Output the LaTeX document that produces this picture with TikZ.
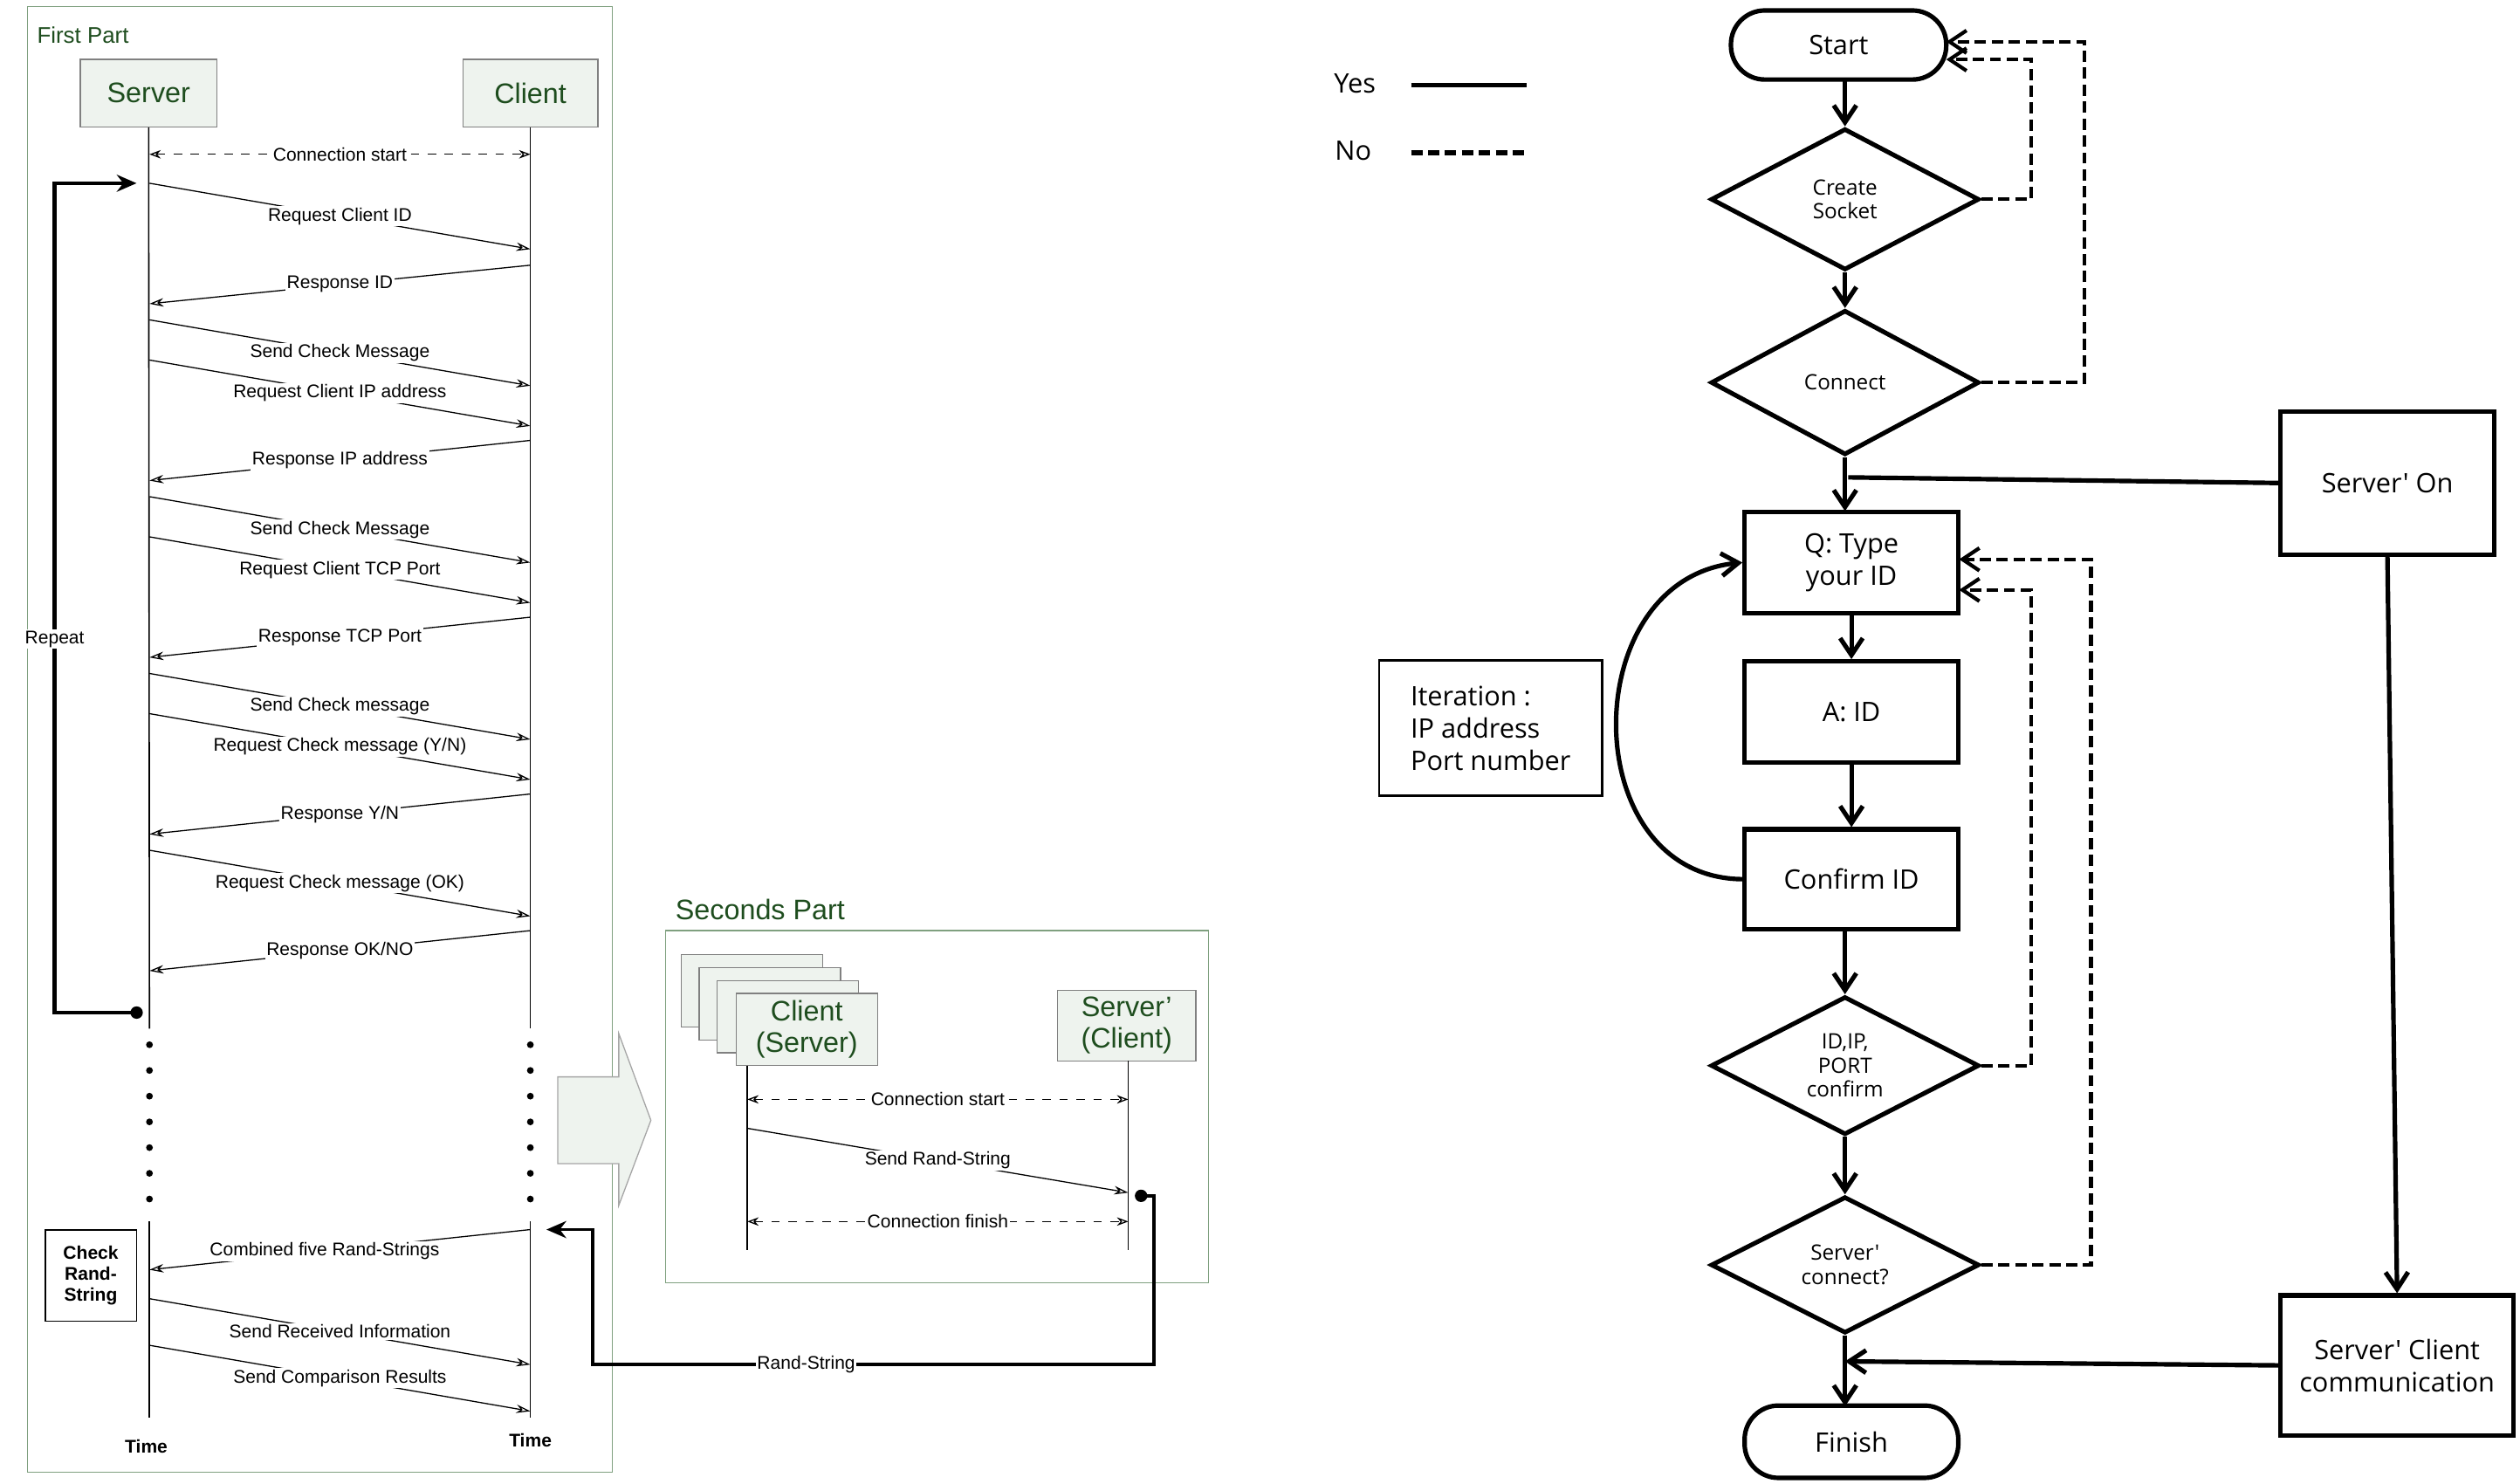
\documentclass[tikz,border=0pt]{standalone}
\usepackage{fontspec}
\setmainfont{Liberation Sans}
\newfontfamily\flowfont{Open Sans}
\usetikzlibrary{arrows.meta,shapes.geometric}
\definecolor{boxfill}{HTML}{EEF3EE}
\definecolor{dgreen}{HTML}{1E4D1E}
\definecolor{frame}{HTML}{7FA07F}
\tikzset{
 every node/.style={inner sep=1pt},
 msg/.style={draw, line width=0.4pt, -{Stealth[open,length=5pt,width=3pt]}},
 lbl/.style={font=\fontsize{6.5}{7}\selectfont, fill=white, inner sep=0.5pt},
 life/.style={draw, line width=0.5pt},
 actor/.style={draw=gray, fill=boxfill, text=dgreen, font=\fontsize{10}{11}\selectfont, align=center},
 dash2/.style={draw, dashed, line width=0.4pt, {Stealth[open,length=4pt,width=3pt]}-{Stealth[open,length=4pt,width=3pt]}},
 fbox/.style={draw, line width=1.6pt, font=\flowfont\fontsize{9.5}{11.5}\selectfont, align=center},
 dia/.style={draw, diamond, aspect=1.9, line width=1.6pt, inner sep=0pt, font=\flowfont\fontsize{7.5}{8.5}\selectfont, align=center},
 yes/.style={draw, line width=1.6pt, -{Straight Barb[length=6pt,width=8pt]}},
 no/.style={draw, line width=1.3pt, dashed, dash pattern=on 4pt off 2pt, -{Straight Barb[length=6pt,width=8pt]}},
}
\begin{document}
\begin{tikzpicture}[x=0.02cm,y=-0.02cm]
\useasboundingbox (0,0) rectangle (1568,923);
% ---------- First part
\draw[frame] (17,4) rectangle (381,916);
\node[anchor=west,text=dgreen,font=\fontsize{8}{9}\selectfont] (fp) at (21,22) {First Part};
\node[actor,minimum width=1.7cm,minimum height=0.84cm] (srv) at (92.5,58) {Server};
\node[actor,minimum width=1.68cm,minimum height=0.84cm] (cli) at (330,58) {Client};
\coordinate (sB) at (93,640);
\coordinate (cB) at (330,640);
\draw[life] (srv.south) -- (sB); \draw[life] (cli.south) -- (cB);
\foreach \y in {650,666,...,750} {\fill (93,\y) circle (1.2pt); \fill (330,\y) circle (1.2pt);}
\coordinate (s2) at (93,760); \coordinate (s3) at (93,882);
\coordinate (c2) at (330,760); \coordinate (c3) at (330,882);
\draw[life] (s2)--(s3); \draw[life] (c2)--(c3);
\draw[dash2] (93,96) -- node[lbl]{Connection start} (330,96);
\foreach \a/\b/\t/\d in {
114/155/{Request Client ID}/0, 165/189/{Response ID}/1, 199/240/{Send Check Message}/0,
224/265/{Request Client IP address}/0, 274/299/{Response IP address}/1, 309/350/{Send Check Message}/0,
334/375/{Request Client TCP Port}/0, 384/409/{Response TCP Port}/1, 419/460/{Send Check message}/0,
444/485/{Request Check message (Y/N)}/0, 494/519/{Response Y/N}/1, 529/570/{Request Check message (OK)}/0,
579/604/{Response OK/NO}/1}{
 \ifnum\d=0 \draw[msg] (93,\a) -- node[lbl,pos=0.5]{\t} (330,\b);
 \else \draw[msg] (330,\a) -- node[lbl,pos=0.5]{\t} (93,\b); \fi}
\fill (85,630) circle (2.2pt);
\draw[line width=1.3pt,-{Stealth[length=7pt,width=6pt]}] (85,630) -- (34,630) -- node[lbl,pos=0.45]{Repeat} (34,114) -- (85,114);
\node[draw,line width=0.6pt,minimum width=1.14cm,minimum height=1.14cm,font=\bfseries\fontsize{6.5}{7.5}\selectfont,align=center] (chk) at (56.5,793.5) {Check\\Rand-\\String};
\draw[msg] (330,765) -- node[lbl,pos=0.54]{Combined five Rand-Strings} (93,790);
\draw[msg] (93,808) -- node[lbl]{Send Received Information} (330,849);
\draw[msg] (93,837) -- node[lbl]{Send Comparison Results} (330,878);
\node[font=\bfseries\fontsize{6.5}{7}\selectfont] (t1) at (91,900) {Time};
\node[font=\bfseries\fontsize{6.5}{7}\selectfont] (t2) at (330,896) {Time};
% big arrow
\draw[gray!70,fill=boxfill] (347,670) -- (385,670) -- (385,643) -- (405,697) -- (385,750) -- (385,724) -- (347,724) -- cycle;
% ---------- Seconds part
\draw[frame] (414,579) rectangle (752,798);
\node[text=dgreen,font=\fontsize{10}{11}\selectfont] (sp) at (473,566) {Seconds Part};
\foreach \dx in {0,11,22} \draw[gray,fill=boxfill] (424+\dx,594+\dx*0.73) rectangle (512+\dx,639+\dx*0.73);
\node[actor,minimum width=1.76cm,minimum height=0.9cm] (cs) at (502,640.5) {Client\\(Server)};
\node[actor,minimum width=1.72cm,minimum height=0.88cm] (sc) at (701,638) {Server'\\(Client)};
\draw[life] (465,663) -- (465,778); \draw[life] (702,660) -- (702,778);
\draw[dash2] (465,684) -- node[lbl]{Connection start} (702,684);
\draw[msg] (465,702) -- node[lbl]{Send Rand-String} (702,742);
\draw[dash2] (465,760) -- node[lbl]{Connection finish} (702,760);
\fill (710,744) circle (2.2pt);
\draw[line width=1.2pt,-{Stealth[length=7pt,width=6pt]}] (710,744) -- (718,744) -- (718,849) -- node[lbl,pos=0.62]{Rand-String} (369,849) -- (369,765) -- (340,765);
% ---------- Flowchart
\node[font=\flowfont\fontsize{9.5}{11}\selectfont] (yl) at (843,52) {Yes};
\node[font=\flowfont\fontsize{9.5}{11}\selectfont] (nl) at (842,94) {No};
\draw[line width=1.6pt] (878,53) -- (950,53);
\draw[line width=1.6pt,dashed,dash pattern=on 4pt off 2pt] (878,95) -- (950,95);
\node[fbox,rounded corners=12pt,minimum width=2.68cm,minimum height=0.86cm] (start) at (1144,28) {Start};
\node[dia,minimum width=3.34cm,minimum height=1.76cm] (cs1) at (1148,124) {Create\\Socket};
\node[dia,minimum width=3.34cm,minimum height=1.8cm] (con) at (1148,238) {Connect};
\node[fbox,minimum width=2.66cm,minimum height=1.26cm] (q) at (1152,350) {Q: Type\\your ID};
\node[fbox,minimum width=2.66cm,minimum height=1.26cm] (a) at (1152,443) {A: ID};
\node[fbox,minimum width=2.66cm,minimum height=1.24cm] (cf) at (1152,547) {Confirm ID};
\node[dia,minimum width=3.34cm,minimum height=1.72cm] (idp) at (1148,663) {ID,IP,\\PORT\\confirm};
\node[dia,minimum width=3.34cm,minimum height=1.7cm] (sco) at (1148,787) {Server'\\connect?};
\node[fbox,rounded corners=12pt,minimum width=2.66cm,minimum height=0.9cm] (fin) at (1152,897) {Finish};
\node[fbox,minimum width=2.66cm,minimum height=1.78cm] (son) at (1485.5,300.5) {Server' On};
\node[fbox,minimum width=2.9cm,minimum height=1.74cm] (scc) at (1491.5,849.5) {Server' Client\\communication};
\node[draw,line width=0.8pt,minimum width=2.78cm,minimum height=1.68cm,font=\flowfont\fontsize{9.5}{11.5}\selectfont,align=left] (it) at (927.5,453) {Iteration :\\IP address\\Port number};
\draw[yes] (1148,49) -- (cs1.north);
\draw[yes] (cs1.south) -- (con.north);
\draw[yes] (con.south) -- (1148,318);
\draw[line width=1.6pt] (son.west) -- (1150,297);
\draw[yes] (1152,381) -- (a.north);
\draw[yes] (a.south) -- (cf.north);
\draw[yes] (1148,578) -- (idp.north);
\draw[yes] (idp.south) -- (sco.north);
\draw[yes] (sco.south) -- (1148,875);
\draw[yes] (son.south) -- (scc.north);
\draw[yes] (scc.west) -- (1148,847);
\draw[yes] (cf.west) .. controls (980,546) and (980,360) .. (q.west);
\draw[no] (cs1.east) -- (1264,124) -- (1264,37) -- (1211,37);
\draw[no] (con.east) -- (1297,238) -- (1297,26) -- (1211,26);
\draw[no] (idp.east) -- (1264,663) -- (1264,367) -- (1219,367);
\draw[no] (sco.east) -- (1301,787) -- (1301,348) -- (1219,348);
\end{tikzpicture}
\end{document}
